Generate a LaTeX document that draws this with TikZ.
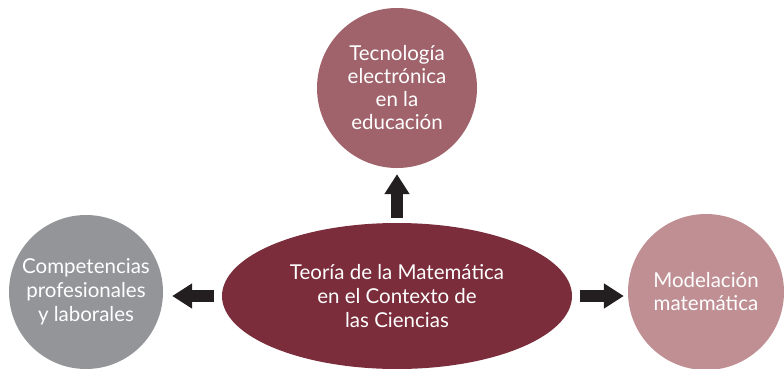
\documentclass[tikz,border=0pt]{standalone}
\usepackage{fontspec}
\setmainfont{Lato}
\usetikzlibrary{shapes.geometric,arrows.meta}
\definecolor{maroonc}{HTML}{7B2D3B}
\definecolor{topc}{HTML}{A0636B}
\definecolor{rightc}{HTML}{C08F94}
\definecolor{leftc}{HTML}{939598}
\definecolor{arrowc}{HTML}{231F20}
\begin{document}
\begin{tikzpicture}[x=1pt,y=-1pt,
  bubble/.style={circle,inner sep=0pt,text=white,align=center,font=\fontsize{20.5}{23}\selectfont},
  blockarrow/.style={draw=arrowc,line width=12pt,-{Triangle[width=24pt,length=20pt]}}]
\useasboundingbox (0,0) rectangle (784,369);
\node[bubble,fill=topc,minimum size=160pt] (top) at (397,88) {Tecnología\\electrónica\\en la\\educación};
\node[ellipse,inner sep=0pt,fill=maroonc,text=white,align=center,minimum width=350pt,minimum height=146pt,font=\fontsize{20.5}{24}\selectfont] (center) at (397,296) {Teoría de la Matemática\\en el Contexto de\\las Ciencias};
\node[bubble,fill=leftc,minimum size=154pt,font=\fontsize{20.5}{24}\selectfont] (left) at (86,292) {Competencias\\profesionales\\y laborales};
\node[bubble,fill=rightc,minimum size=156pt] (right) at (706,292) {Modelación\\matemática};
\draw[blockarrow,shorten <=5pt,shorten >=6pt] (center.north) -- (top.south);
\draw[blockarrow,shorten <=8pt,shorten >=9pt] (center.west) -- (left.east |- center.west);
\draw[blockarrow,shorten <=8pt,shorten >=4pt] (center.east) -- (right.west |- center.east);
\end{tikzpicture}
\end{document}
